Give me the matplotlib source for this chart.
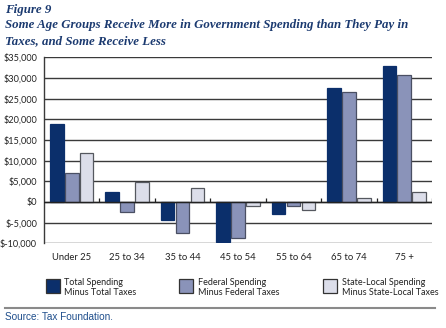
import matplotlib
matplotlib.use("Agg")
import matplotlib.pyplot as plt
import numpy as np
from matplotlib.patches import Rectangle
from matplotlib.lines import Line2D

categories = ["Under 25", "25 to 34", "35 to 44", "45 to 54", "55 to 64", "65 to 74", "75 +"]
total = [18800, 2400, -4300, -9800, -2900, 27500, 33000]
federal = [7100, -2500, -7600, -8700, -900, 26700, 30800]
state_local = [11800, 4900, 3500, -1000, -1900, 1000, 2300]
series_names = ["Total Spending\nMinus Total Taxes",
                "Federal Spending\nMinus Federal Taxes",
                "State-Local Spending\nMinus State-Local Taxes"]
yticks = [-10000, -5000, 0, 5000, 10000, 15000, 20000, 25000, 30000, 35000]
ytick_labels = ["$-10,000", "$-5,000", "$0", "$5,000", "$10,000", "$15,000",
                "$20,000", "$25,000", "$30,000", "$35,000"]

colors = ["#0b2f6b", "#8a93b9", "#dcdeea"]
edges = ["#0b2f6b", "#4a4f63", "#55585f"]
navy = "#1b3a70"

W, H = 446, 328
fig = plt.figure(figsize=(W / 100, H / 100), dpi=100)
fig.patch.set_facecolor("white")

ax = fig.add_axes([44 / W, 1 - 243.3 / H, 388 / W, 186 / H])
x = np.arange(len(categories))
bw = 0.245
offs = [-0.27, 0.0, 0.27]
for vals, off, c, e in zip([total, federal, state_local], offs, colors, edges):
    ax.bar(x + off, vals, width=bw, color=c, edgecolor=e, linewidth=0.9, zorder=3)

ax.set_xlim(-0.5, len(categories) - 0.5)
ax.set_ylim(-10000, 35000)
ax.set_yticks(yticks)
ax.set_yticklabels(ytick_labels, fontsize=6.6, family="Lato", color="#222222")
ax.set_xticks(x)
ax.set_xticklabels(categories, fontsize=6.8, family="Lato", color="#222222")
ax.tick_params(axis="y", length=0, pad=5)
ax.tick_params(axis="x", length=0, pad=7)
for yv in yticks:
    ax.axhline(yv, color="#3a3a3a", lw=1.0, zorder=1)
ax.axhline(0, color="#222222", lw=1.0, zorder=4)
bounds = np.arange(len(categories)) + 0.5
ax.vlines(bounds, 0, 900, color="#222222", lw=0.9, zorder=4)
for s in ["top", "right", "bottom"]:
    ax.spines[s].set_visible(False)
ax.spines["left"].set_color("#3a3a3a")
ax.spines["left"].set_linewidth(1.0)

# Title
tkw = dict(fontsize=9.3, family="Liberation Serif", style="italic", weight="bold",
           color=navy, va="center", ha="left")
fig.text(5 / W, 1 - 10 / H, "Figure 9", **tkw)
fig.text(5 / W, 1 - 25 / H, "Some Age Groups Receive More in Government Spending than They Pay in", **tkw)
fig.text(5 / W, 1 - 41 / H, "Taxes, and Some Receive Less", **tkw)

# Legend
sq_x = [45.5, 179, 323]
for sx, c, e, name in zip(sq_x, colors, edges, series_names):
    fig.patches.append(Rectangle((sx / W, 1 - 292.5 / H), 14 / W, 13.5 / H,
                                 transform=fig.transFigure, facecolor=c,
                                 edgecolor="#333333", linewidth=0.9))
    fig.text((sx + 19) / W, 1 - 287.5 / H, name, fontsize=6.5, family="Lato",
             color="#222222", va="center", ha="left", linespacing=1.25)

fig.lines.append(Line2D([5 / W, 435 / W], [1 - 307.7 / H, 1 - 307.7 / H],
                        transform=fig.transFigure, color="#8a8a8a", lw=1.5))
fig.text(5 / W, 1 - 317 / H, "Source: Tax Foundation.", fontsize=7.2,
         family="Liberation Sans", color="#1f4e8c", va="center", ha="left")

fig.savefig("out.png", dpi=100)
